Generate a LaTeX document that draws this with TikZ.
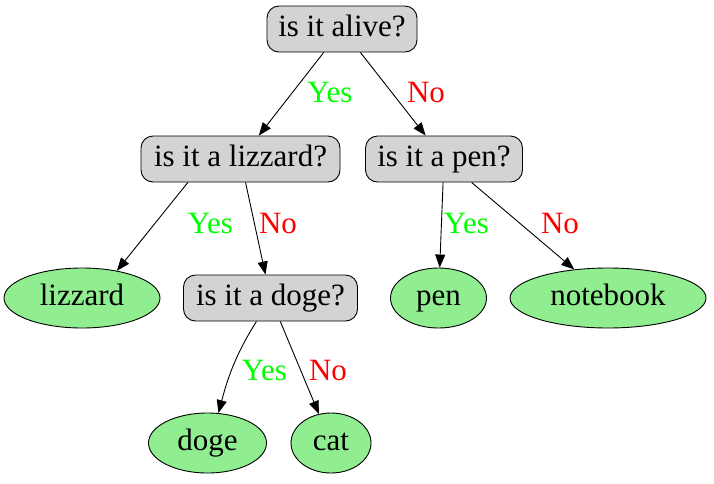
\documentclass[tikz,border=0pt]{standalone}
\usepackage{fontspec}
\setmainfont{LiberationSerif}[Extension=.ttf, UprightFont=*-Regular]
\usetikzlibrary{arrows.meta, positioning, shapes.geometric}
\definecolor{boxgray}{HTML}{D3D3D3}
\definecolor{leafgreen}{HTML}{90EE90}
\definecolor{yesgreen}{HTML}{00FF00}
\definecolor{nored}{HTML}{FF0000}

\begin{document}
\begin{tikzpicture}[x=1pt, y=-1pt, >={Triangle[length=13pt, width=10pt]}, line width=0.9pt,
    font=\rmfamily\fontsize{31}{37}\selectfont,
    question/.style={draw, rounded corners=12pt, fill=boxgray, minimum height=46pt,
        text height=21pt, text depth=6pt, inner sep=0pt},
    answer/.style={draw, ellipse, fill=leafgreen, minimum height=60pt,
        text height=21pt, text depth=6pt, inner sep=0pt},
    yes/.style={yesgreen, anchor=base},
    no/.style={nored, anchor=base}]
    \useasboundingbox (0,0) rectangle (714,483);

    % Các câu hỏi
    \node[question, minimum width=150pt] (alive) at (342,29) {is it alive?};
    \node[question, minimum width=199pt] (lizq) at (240.5,159) {is it a lizzard?};
    \node[question, minimum width=157pt] (penq) at (444,159) {is it a pen?};
    \node[question, minimum width=174pt] (dogeq) at (270.5,298) {is it a doge?};

    % Các câu trả lời
    \node[answer, minimum width=156pt] (lizzard) at (82,298) {lizzard};
    \node[answer, minimum width=96pt] (pen) at (438.5,298) {pen};
    \node[answer, minimum width=196pt] (notebook) at (608,298) {notebook};
    \node[answer, minimum width=118pt] (doge) at (207.5,443) {doge};
    \node[answer, minimum width=80pt] (cat) at (331,443) {cat};

    % Các cạnh
    \draw[->] (alive) -- (lizq);
    \draw[->] (alive) -- (penq);
    \draw[->] (lizq.204) -- (lizzard.38);
    \draw[->] (lizq) -- (dogeq);
    \draw[->] (penq) -- (pen);
    \draw[->] (penq) -- (notebook);
    \draw[->] (dogeq.239) to[out=238, in=75] (doge.70);
    \draw[->] (dogeq) -- (cat);

    % Nhãn Yes / No
    \node[yes] (yes1) at (330,102) {Yes};
    \node[no] (no1) at (426,102) {No};
    \node[yes] (yes2) at (210.5,233) {Yes};
    \node[no] (no2) at (278,233) {No};
    \node[yes] (yes3) at (466.5,233) {Yes};
    \node[no] (no3) at (560,233) {No};
    \node[yes] (yes4) at (264.5,380) {Yes};
    \node[no] (no4) at (328,380) {No};

\end{tikzpicture}
\end{document}
